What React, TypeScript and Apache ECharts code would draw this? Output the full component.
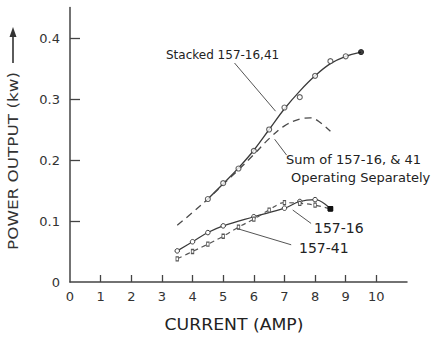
import React, { useEffect, useRef } from "react";
import * as echarts from "echarts";

// Axis ticks
const currentTicks = [0, 1, 2, 3, 4, 5, 6, 7, 8, 9, 10];
const currentTickMarks = [1, 2, 3, 4, 5, 6, 7, 8, 9, 10];
const powerTicks = [0, 0.1, 0.2, 0.3, 0.4];
const powerTickMarks = [0.1, 0.2, 0.3, 0.4];

// Stacked 157-16,41: measured points
const stackedCurrent = [4.5, 5, 5.5, 6, 6.5, 7, 7.5, 8, 8.5, 9, 9.5];
const stackedPower = [0.136, 0.162, 0.186, 0.215, 0.25, 0.286, 0.303, 0.338, 0.362, 0.37, 0.377];
// Stacked 157-16,41: faired curve
const stackedCurveCurrent = [4.5, 5, 5.5, 6, 6.5, 7, 7.5, 8, 8.5, 9, 9.5];
const stackedCurvePower = [0.136, 0.161, 0.187, 0.216, 0.25, 0.284, 0.313, 0.338, 0.358, 0.37, 0.377];

// Sum of 157-16 & 41 operating separately
const sumCurrent = [3.5, 4, 4.5, 5, 5.5, 6, 6.5, 7, 7.5, 7.85, 8.1, 8.5];
const sumPower = [0.093, 0.114, 0.136, 0.16, 0.184, 0.209, 0.235, 0.256, 0.267, 0.269, 0.264, 0.247];

// 157-16 alone
const tube16Current = [3.5, 4, 4.5, 5, 6, 7, 7.5, 8, 8.5];
const tube16Power = [0.051, 0.066, 0.081, 0.092, 0.107, 0.121, 0.132, 0.135, 0.12];

// 157-41 alone
const tube41Current = [3.5, 4, 4.5, 5, 5.5, 6, 6.5, 7, 7.5, 8, 8.5];
const tube41Power = [0.038, 0.05, 0.062, 0.075, 0.09, 0.103, 0.118, 0.13, 0.129, 0.126, 0.12];

const INK = "#3a3a3a";
const FONT = "DejaVu Sans";

const pairs = (xs: number[], ys: number[]) => xs.map((x, i) => [x, ys[i]]);

const leader = (from: number[], to: number[]) => ({
  silent: true,
  symbol: ["none", "arrow"],
  symbolSize: [0, 7],
  label: { show: false },
  lineStyle: { color: "#555", width: 1, type: "solid" },
  data: [[{ coord: from }, { coord: to }]],
});

export default function App() {
  const ref = useRef<HTMLDivElement>(null);

  useEffect(() => {
    if (!ref.current) return;
    const chart = echarts.init(ref.current, undefined, { renderer: "svg" });

    const lastFilled = (pts: number[][], symbol: string, size: number) =>
      pts.map((p, i) =>
        i === pts.length - 1
          ? { value: p, symbol, symbolSize: size, itemStyle: { color: "#111", borderColor: "#111" } }
          : { value: p }
      );

    chart.setOption({
      animation: false,
      backgroundColor: "#ffffff",
      grid: { left: 70, right: 30, top: 7.5, bottom: 56 },
      xAxis: {
        type: "value",
        min: 0,
        max: 11,
        interval: 1,
        axisLine: { lineStyle: { color: "#444", width: 1.5 } },
        axisTick: {
          inside: true,
          length: 7,
          customValues: currentTickMarks,
          lineStyle: { color: "#444", width: 1.3 },
        },
        axisLabel: {
          customValues: currentTicks,
          margin: 8,
          color: "#333",
          fontSize: 13,
          fontFamily: FONT,
        },
        splitLine: { show: false },
      },
      yAxis: {
        type: "value",
        min: 0,
        max: 0.45,
        interval: 0.1,
        axisLine: { show: true, lineStyle: { color: "#444", width: 1.5 } },
        axisTick: {
          show: true,
          inside: true,
          length: 10,
          customValues: powerTickMarks,
          lineStyle: { color: "#444", width: 1.3 },
        },
        axisLabel: {
          customValues: powerTicks,
          formatter: (v: number) => (v === 0 ? "0" : v.toFixed(1)),
          margin: 10,
          color: "#333",
          fontSize: 13,
          fontFamily: FONT,
        },
        splitLine: { show: false },
      },
      series: [
        {
          name: "Stacked 157-16,41 curve",
          type: "line",
          data: pairs(stackedCurveCurrent, stackedCurvePower),
          smooth: 0.4,
          showSymbol: false,
          lineStyle: { color: INK, width: 1.3 },
          markLine: leader([5.37, 0.359], [6.71, 0.28]),
          z: 2,
        },
        {
          name: "Stacked 157-16,41",
          type: "scatter",
          data: lastFilled(pairs(stackedCurrent, stackedPower), "circle", 5),
          symbol: "circle",
          symbolSize: 5,
          itemStyle: { color: "#fff", borderColor: INK, borderWidth: 1.1 },
          z: 3,
        },
        {
          name: "Sum of 157-16, & 41 Operating Separately",
          type: "line",
          data: pairs(sumCurrent, sumPower),
          smooth: 0.4,
          showSymbol: false,
          lineStyle: { color: "#4a4a4a", width: 1.3, type: [7, 5] },
          markLine: leader([7.07, 0.208], [6.68, 0.234]),
          z: 2,
        },
        {
          name: "157-16",
          type: "line",
          data: lastFilled(pairs(tube16Current, tube16Power), "rect", 4.5),
          smooth: 0.4,
          symbol: "circle",
          symbolSize: 4.5,
          showSymbol: true,
          itemStyle: { color: "#fff", borderColor: INK, borderWidth: 1 },
          lineStyle: { color: INK, width: 1.2 },
          markLine: leader([7.87, 0.096], [7.27, 0.118]),
          z: 3,
        },
        {
          name: "157-41",
          type: "line",
          data: lastFilled(pairs(tube41Current, tube41Power), "rect", 4.5),
          smooth: 0.4,
          symbol: "rect",
          symbolSize: [2.5, 4],
          showSymbol: true,
          itemStyle: { color: "#fff", borderColor: "#555", borderWidth: 1 },
          lineStyle: { color: "#555", width: 1.2, type: [5, 4] },
          markLine: leader([7.22, 0.061], [5.43, 0.088]),
          z: 3,
        },
      ],
      graphic: [
        {
          type: "text",
          x: 13,
          y: 161,
          rotation: Math.PI / 2,
          scaleX: 1.2,
          style: {
            text: "POWER OUTPUT (kw)",
            align: "center",
            verticalAlign: "middle",
            font: `14px "${FONT}"`,
            fill: "#333",
          },
        },
        {
          type: "line",
          shape: { x1: 13, y1: 63, x2: 13, y2: 34 },
          style: { stroke: "#333", lineWidth: 1.6 },
        },
        {
          type: "polygon",
          shape: { points: [[9.5, 37], [16.5, 37], [13, 27]] },
          style: { fill: "#333" },
        },
        {
          type: "text",
          x: 234,
          y: 325,
          scaleX: 1.15,
          style: {
            text: "CURRENT (AMP)",
            align: "center",
            verticalAlign: "middle",
            font: `15px "${FONT}"`,
            fill: "#222",
          },
        },
        {
          type: "text",
          x: 166,
          y: 55,
          style: {
            text: "Stacked 157-16,41",
            align: "left",
            verticalAlign: "middle",
            font: `12px "${FONT}"`,
            fill: "#222",
          },
        },
        {
          type: "text",
          x: 286,
          y: 159,
          style: {
            text: "Sum of 157-16, & 41",
            align: "left",
            verticalAlign: "middle",
            font: `13px "${FONT}"`,
            fill: "#222",
          },
        },
        {
          type: "text",
          x: 291,
          y: 177,
          style: {
            text: "Operating Separately",
            align: "left",
            verticalAlign: "middle",
            font: `13px "${FONT}"`,
            fill: "#222",
          },
        },
        {
          type: "text",
          x: 314,
          y: 228,
          style: {
            text: "157-16",
            align: "left",
            verticalAlign: "middle",
            font: `14px "${FONT}"`,
            fill: "#222",
          },
        },
        {
          type: "text",
          x: 299,
          y: 248,
          style: {
            text: "157-41",
            align: "left",
            verticalAlign: "middle",
            font: `14px "${FONT}"`,
            fill: "#222",
          },
        },
      ],
    });

    return () => chart.dispose();
  }, []);

  return (
    <div
      ref={ref}
      style={{ position: "fixed", left: 0, top: 0, width: 437, height: 338, background: "#fff" }}
    />
  );
}
